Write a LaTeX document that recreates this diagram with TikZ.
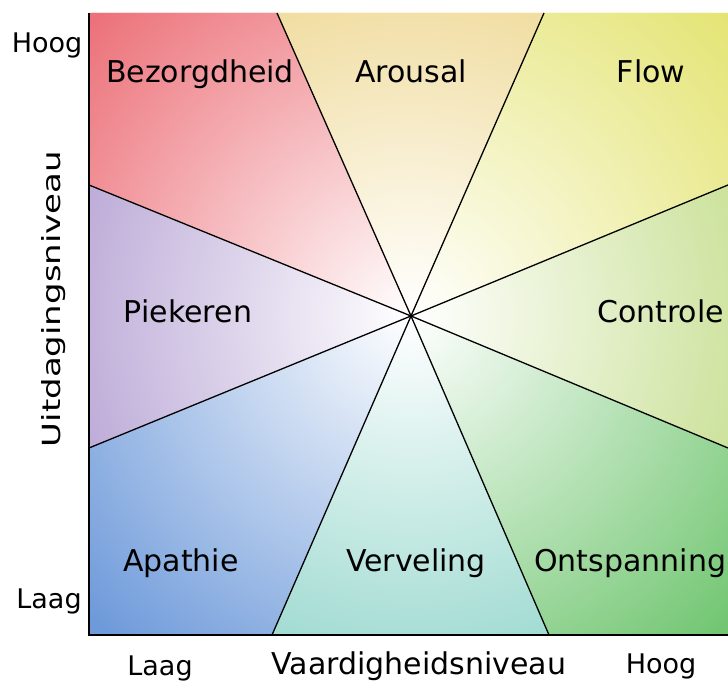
\documentclass[tikz,border=0pt]{standalone}
\usepackage{fontspec}
\usepackage{graphicx}
\setmainfont{DejaVu Sans}

\definecolor{zorgrood}{HTML}{EC7078}
\definecolor{arousalgeel}{HTML}{ECD282}
\definecolor{flowgeel}{HTML}{E4E474}
\definecolor{controlegroen}{HTML}{BEDA80}
\definecolor{ontspangroen}{HTML}{72C672}
\definecolor{verveltuur}{HTML}{88D2C6}
\definecolor{apathieblauw}{HTML}{6E9ADA}
\definecolor{piekerpaars}{HTML}{AC96CE}

% one wedge of the chart, fading to white in the middle
\newcommand{\wedgefill}[2]{%
  \begin{scope}
    \clip #2 -- cycle;
    \fill[#1] #2 -- cycle;
    \shade[inner color=white, outer color=#1] (C) circle (440pt);
  \end{scope}}

\begin{document}
\begin{tikzpicture}[x=1pt,y=1pt,
    region/.style={font=\fontsize{30}{36}\selectfont, anchor=base, inner sep=0pt},
    tick/.style={font=\fontsize{27}{32}\selectfont, anchor=base, inner sep=0pt},
    divider/.style={line width=1.3pt},
    axis/.style={line width=2.6pt}]
  \useasboundingbox (0,0) rectangle (728,682);

  \coordinate (C) at (411,366);
  \coordinate (t1) at (277,669);
  \coordinate (t2) at (544,669);
  \coordinate (b1) at (272,47);
  \coordinate (b2) at (549,47);
  \coordinate (l1) at (89,497);
  \coordinate (l2) at (89,234);
  \coordinate (r1) at (728,497);
  \coordinate (r2) at (728,234);
  \coordinate (tl) at (89,669);
  \coordinate (tr) at (728,669);
  \coordinate (bl) at (89,47);
  \coordinate (br) at (728,47);

  \wedgefill{zorgrood}{(C) -- (l1) -- (tl) -- (t1)}
  \wedgefill{arousalgeel}{(C) -- (t1) -- (t2)}
  \wedgefill{flowgeel}{(C) -- (t2) -- (tr) -- (r1)}
  \wedgefill{controlegroen}{(C) -- (r1) -- (r2)}
  \wedgefill{ontspangroen}{(C) -- (r2) -- (br) -- (b2)}
  \wedgefill{verveltuur}{(C) -- (b2) -- (b1)}
  \wedgefill{apathieblauw}{(C) -- (b1) -- (bl) -- (l2)}
  \wedgefill{piekerpaars}{(C) -- (l2) -- (l1)}

  \draw[divider] (C) -- (t1);
  \draw[divider] (C) -- (t2);
  \draw[divider] (C) -- (b1);
  \draw[divider] (C) -- (b2);
  \draw[divider] (C) -- (l1);
  \draw[divider] (C) -- (l2);
  \draw[divider] (C) -- (r1);
  \draw[divider] (C) -- (r2);

  \draw[axis] (tl) -- (bl) -- (br);

  \path (200,599) node[region] (bez) {Bezorgdheid};
  \path (411,599) node[region] (aro) {Arousal};
  \path (651,599) node[region] (flo) {Flow};
  \path (188,359) node[region] (pie) {Piekeren};
  \path (597,359) node[region,anchor=base west] (con) {Controle};
  \path (181,110) node[region] (apa) {Apathie};
  \path (416,110) node[region] (ver) {Verveling};
  \path (534,110) node[region,anchor=base west] (ont) {Ontspanning};

  \path (47,629) node[tick] (yhoog) {Hoog};
  \path (49,73) node[tick] (ylaag) {Laag};
  \path (160,6) node[tick] (xlaag) {Laag};
  \path (661,8) node[tick] (xhoog) {Hoog};
  \path (419,7) node[tick,font=\fontsize{30}{36}\selectfont] (xlab) {Vaardigheidsniveau};
  \path (54,383) node[rotate=90,inner sep=0pt,font=\fontsize{25}{30}\selectfont] (ylab)
    {\scalebox{1.36}[1]{Uitdagingsniveau}};
\end{tikzpicture}
\end{document}
